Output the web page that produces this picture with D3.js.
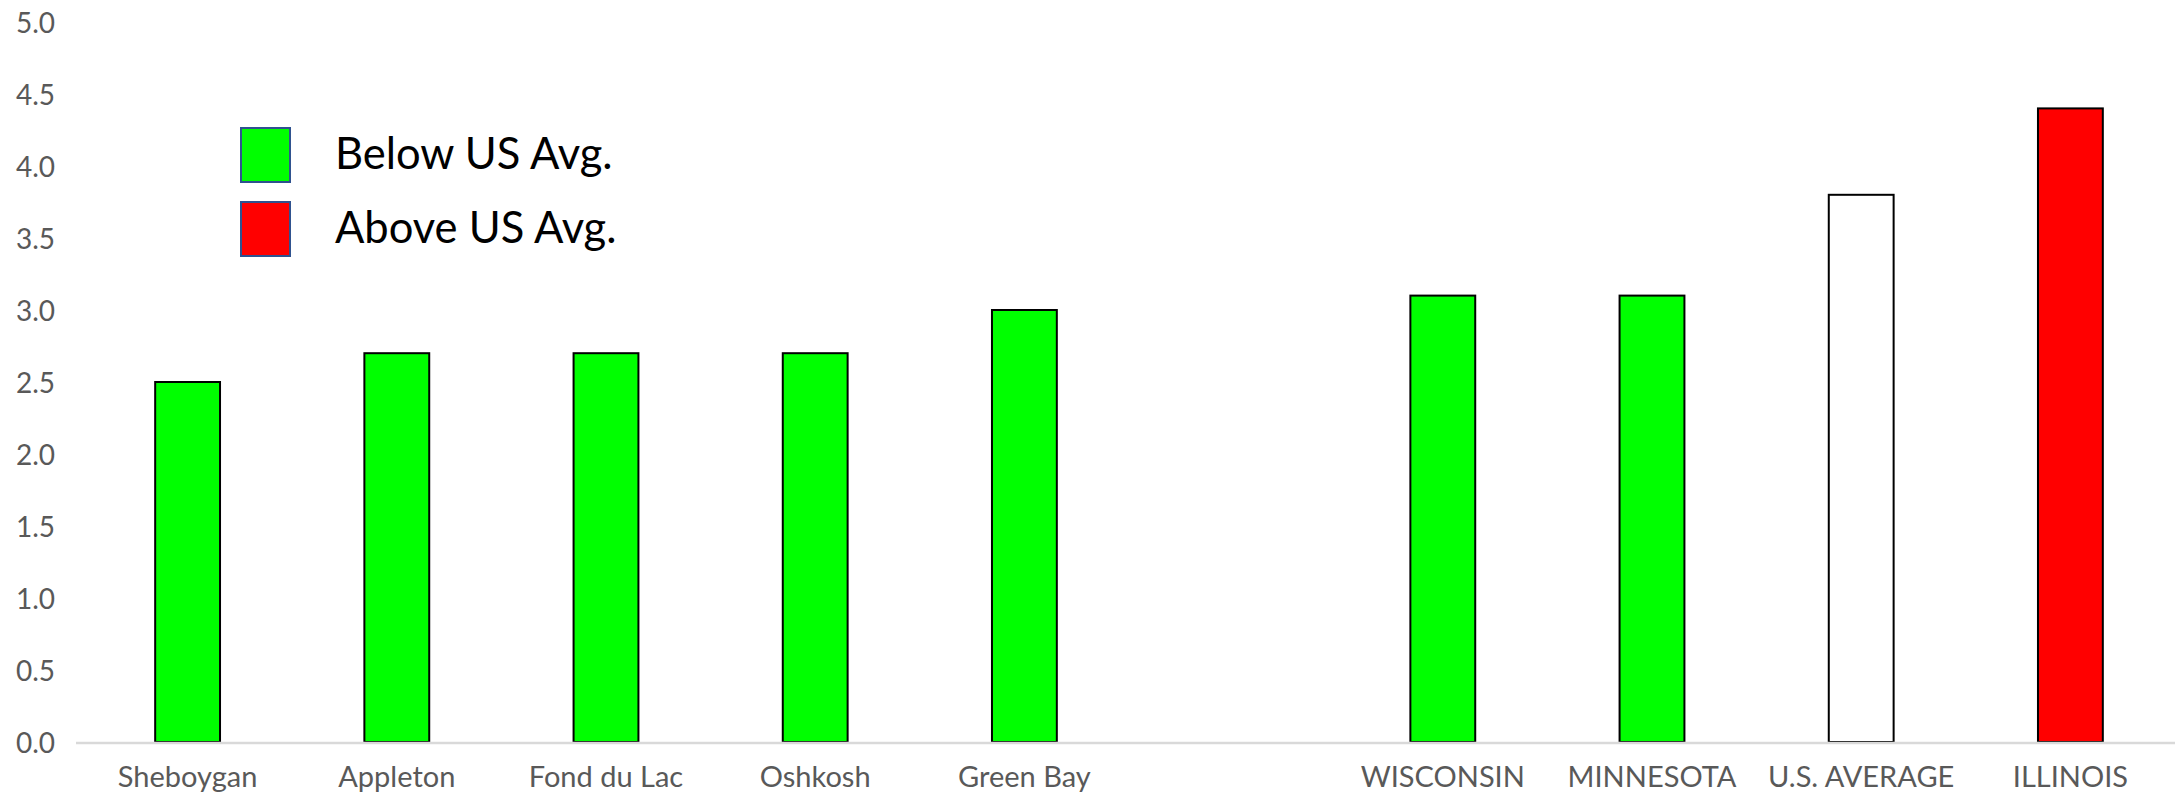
<!DOCTYPE html>
<html lang="en">
<head>
<meta charset="UTF-8">
<title>Bar chart</title>
<script src="https://d3js.org/d3.v7.min.js"></script>
<style>
  body { margin: 0; background: #fff; }
  svg { display: block; }
  .tick text, .cat { font-family: Lato, "Open Sans", sans-serif; fill: #595959; }
  .legend text { font-family: Lato, "Open Sans", sans-serif; fill: #000; }
</style>
</head>
<body>
<svg id="chart" width="2176" height="796"></svg>
<script>
// data ("" is the empty slot between cities and states)
var categories = ["Sheboygan", "Appleton", "Fond du Lac", "Oshkosh", "Green Bay", "", "WISCONSIN", "MINNESOTA", "U.S. AVERAGE", "ILLINOIS"];
var values     = [2.5, 2.7, 2.7, 2.7, 3.0, null, 3.1, 3.1, 3.8, 4.4];
var colors     = ["#00ff00", "#00ff00", "#00ff00", "#00ff00", "#00ff00", null, "#00ff00", "#00ff00", "#ffffff", "#ff0000"];
var yTicks     = [0, 0.5, 1, 1.5, 2, 2.5, 3, 3.5, 4, 4.5, 5];
var legendLabels = ["Below US Avg.", "Above US Avg."];
var legendColors = ["#00ff00", "#ff0000"];

var svg = d3.select("#chart");
var left = 83, right = 2175, y0 = 742, y5 = 22;

var x = d3.scaleBand().domain(d3.range(categories.length)).range([left, right])
  .paddingInner(0.69).paddingOuter(0.345);
var y = d3.scaleLinear().domain([0, 5]).range([y0, y5]);

// y axis labels only (no line, no ticks)
var yAxis = svg.append("g").attr("transform", "translate(80,0)")
  .call(d3.axisLeft(y).tickValues(yTicks).tickFormat(d3.format(".1f")).tickSize(0).tickPadding(25));
yAxis.select(".domain").remove();
yAxis.selectAll("text").attr("font-size", 28).attr("dy", "0.36em");

var rows = categories.map(function(c, i) { return {cat: c, v: values[i], col: colors[i], i: i}; });

// bars
svg.append("g").selectAll("rect")
  .data(rows.filter(function(d) { return d.v != null; }))
  .enter().append("rect")
  .attr("x", function(d) { return x(d.i); })
  .attr("width", x.bandwidth())
  .attr("y", function(d) { return y(d.v); })
  .attr("height", function(d) { return y(0) - y(d.v); })
  .attr("fill", function(d) { return d.col; })
  .attr("stroke", "#000")
  .attr("stroke-width", 2);

// baseline
svg.append("line")
  .attr("x1", 76).attr("x2", right)
  .attr("y1", y(0) + 1).attr("y2", y(0) + 1)
  .attr("stroke", "#d9d9d9").attr("stroke-width", 2.5);

// category labels
svg.append("g").selectAll("text")
  .data(rows.filter(function(d) { return d.cat !== ""; }))
  .enter().append("text")
  .attr("class", "cat")
  .attr("x", function(d) { return x(d.i) + x.bandwidth() / 2; })
  .attr("y", 787)
  .attr("text-anchor", "middle")
  .attr("font-size", 29)
  .text(function(d) { return d.cat; });

// legend
var lg = svg.append("g").attr("class", "legend");
var item = lg.selectAll("g").data(legendLabels).enter().append("g")
  .attr("transform", function(d, i) { return "translate(241," + (128 + i * 74) + ")"; });
item.append("rect")
  .attr("width", 49).attr("height", 54)
  .attr("fill", function(d, i) { return legendColors[i]; })
  .attr("stroke", "#2f528f").attr("stroke-width", 2);
item.append("text")
  .attr("x", 94).attr("y", 41)
  .attr("font-size", 43.5)
  .text(function(d) { return d; });
</script>
</body>
</html>
